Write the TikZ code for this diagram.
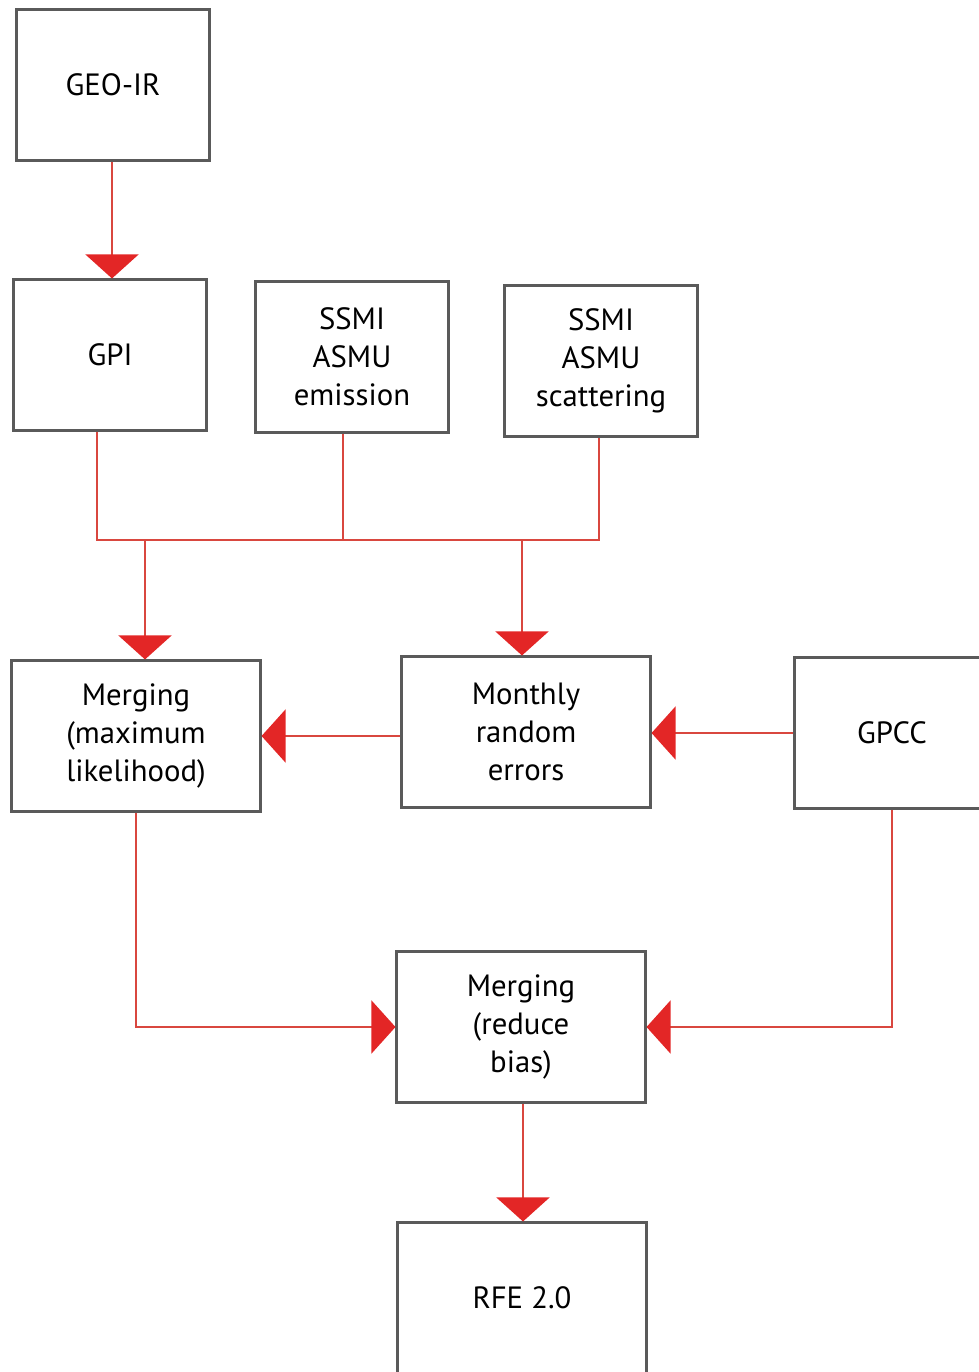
\documentclass[tikz,border=0pt]{standalone}
\usepackage{xcolor}
\usepackage{fontspec}
\setmainfont{PT Sans}
\usepackage{tikz}
\usetikzlibrary{arrows.meta}

\definecolor{boxgray}{HTML}{5A5A5A}
\definecolor{linered}{HTML}{D9473F}
\definecolor{headred}{HTML}{E32626}

\tikzset{
    box/.style={draw=boxgray, line width=1.2pt, fill=white, align=center,
        minimum width=3.86cm, minimum height=3.02cm, inner sep=0pt,
        font=\fontsize{17.5}{21.5}\selectfont},
    widebox/.style={box, minimum width=4.98cm},
    link/.style={draw=linered, line width=0.9pt},
    arr/.style={link, -{Triangle[length=0.48cm,width=1.06cm,color=headred]}}
}

\begin{document}
\begin{tikzpicture}[x=0.02cm, y=-0.02cm]
    \useasboundingbox (0,0) rectangle (979,1372);

    \node[box] (geo) at (113,85) {GEO-IR};
    \node[box] (gpi) at (110,355) {GPI};
    \node[box] (emis) at (352,357) {SSMI\\ASMU\\emission};
    \node[box] (scat) at (601,361) {SSMI\\ASMU\\scattering};

    \node[widebox] (ml) at (136,736) {Merging\\(maximum\\likelihood)};
    \node[widebox] (mre) at (526,732) {Monthly\\random\\errors};
    \node[box, minimum width=3.9cm] (gpcc) at (892,733) {GPCC};

    \node[widebox] (bias) at (521,1027) {Merging\\(reduce\\bias)};
    \node[widebox] (rfe) at (522,1298) {RFE 2.0};

    % collecting line under the satellite boxes
    \coordinate (busL) at (97,540);
    \coordinate (busR) at (599,540);
    \coordinate (j1) at (145,540);
    \coordinate (j2) at (522,540);

    \draw [arr] (geo.south -| 112,0) -- (gpi.north -| 112,0);

    \draw [link] (gpi.south -| busL) -- (busL) -- (busR) -- (scat.south -| busR);
    \draw [link] (emis.south -| 343,0) -- (busL -| 343,0);

    \draw [arr] (j1) -- (j1 |- ml.north);
    \draw [arr] (j2) -- (j2 |- mre.north);

    \draw [arr] (mre.west |- ml.east) -- (ml.east);
    \draw [arr] (gpcc.west) -- (mre.east |- gpcc.west);

    \draw [arr] (ml.south) |- (bias.west);
    \draw [arr] (gpcc.south) |- (bias.east);
    \draw [arr] (bias.south -| 523,0) -- (rfe.north -| 523,0);

\end{tikzpicture}
\end{document}
